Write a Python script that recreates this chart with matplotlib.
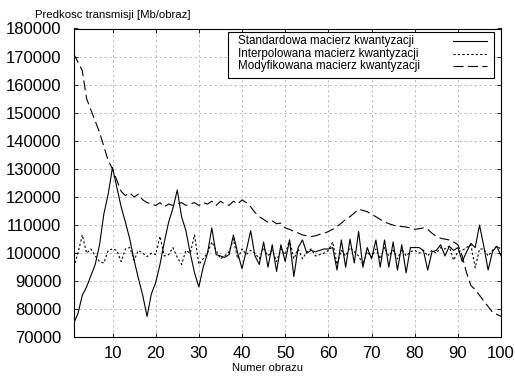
import matplotlib
matplotlib.use("Agg")
import matplotlib.pyplot as plt
from matplotlib.patches import Rectangle
import numpy as np

plt.rcParams["font.family"] = ["Liberation Sans", "DejaVu Sans"]

# frame numbers and bitrate for the three quantization matrices
frames = np.arange(1, 101)

standard = [
    75000, 78500, 85000, 88000, 92000, 96000, 103000, 114000, 121000, 130500,
    123500, 116500, 111000, 105000, 97500, 91000, 85000, 77500, 85500, 89500,
    96000, 104000, 111000, 116000, 122500, 113000, 108000, 100000, 93000, 88000,
    95000, 100000, 109000, 99500, 99000, 98500, 99500, 106500, 100000, 94500,
    101000, 108000, 99000, 96000, 104000, 95000, 103000, 93500, 103000, 97000,
    104700, 91700, 102000, 104700, 100000, 101000, 100500, 101000, 101500, 101500,
    102000, 94000, 104700, 95000, 105000, 96500, 107700, 95000, 102000, 98000,
    104700, 95000, 104700, 95000, 104000, 94000, 103000, 93000, 102000, 102000,
    102000, 101000, 94000, 100500, 101000, 103000, 99000, 102400, 101000, 102000,
    97000, 100500, 103500, 102000, 110000, 102400, 94000, 100500, 102500, 99000,
]

interpolated = [
    95000, 100000, 106500, 100000, 101500, 99000, 97000, 96500, 101000, 101500,
    101000, 97000, 101500, 102000, 97500, 101000, 100000, 98800, 100000, 99500,
    106000, 99000, 99500, 102000, 98500, 96000, 101000, 100000, 106500, 96000,
    98000, 100000, 104000, 101000, 98000, 99000, 100500, 105000, 98000, 101500,
    99500, 101000, 100000, 98000, 102000, 99000, 101000, 97000, 101500, 99500,
    104700, 98000, 101500, 98000, 100500, 101500, 99000, 99500, 100000, 101000,
    104000, 96000, 101000, 99000, 102000, 100500, 99000, 96000, 100500, 98500,
    101500, 98000, 102000, 99000, 101000, 98000, 101500, 99000, 100500, 101000,
    100000, 101000, 99000, 101000, 100000, 102000, 101500, 102500, 97500, 100500,
    101000, 102000, 103000, 94800, 101500, 101500, 99000, 101000, 102500, 101500,
]

modified = [
    171000, 168000, 165000, 155000, 151000, 147000, 143000, 138000, 133000, 130000,
    126000, 122000, 120500, 121500, 120000, 121000, 119000, 118000, 117500, 117000,
    118000, 116500, 117500, 117000, 117500, 118000, 117000, 117500, 118000, 117000,
    118000, 117500, 118500, 117000, 118500, 117500, 117000, 118500, 117500, 119000,
    118000, 116500, 114500, 113000, 112000, 111000, 111500, 110500, 110700, 109000,
    108500, 107700, 107200, 106500, 106200, 105900, 106200, 106700, 107100, 107700,
    108500, 109500, 110700, 112000, 113000, 114300, 115700, 115200, 114800, 113800,
    113000, 112000, 111200, 110500, 110000, 109500, 109500, 109300, 109000, 108500,
    108700, 109000, 108500, 107100, 106000, 105300, 105000, 104700, 104000, 103000,
    99000, 93000, 88500, 87000, 85000, 83000, 81000, 79000, 78200, 77500,
]

labels = [
    "Standardowa macierz kwantyzacji",
    "Interpolowana macierz kwantyzacji",
    "Modyfikowana macierz kwantyzacji",
]
styles = ["-", (0, (2, 2)), (0, (9, 4))]

fig = plt.figure(figsize=(5.15, 3.80), dpi=100)
ax = fig.add_axes([0.143, 0.112, 0.830, 0.813])

for series, ls in zip([standard, interpolated, modified], styles):
    ax.plot(frames, series, color="black", lw=0.8, linestyle=ls)

ax.set_xlim(1, 100)
ax.set_ylim(70000, 180000)
ax.set_xticks(range(10, 101, 10))
ax.set_yticks(range(70000, 180001, 10000))
ax.tick_params(direction="in", top=True, right=True, labelsize=12, length=3, width=0.6)
ax.tick_params(axis="y", pad=9)
ax.tick_params(axis="x", pad=6)
ax.grid(True, color="#b8b8b8", linestyle=(0, (3, 3)), linewidth=0.6)
for s in ax.spines.values():
    s.set_linewidth(0.8)

fig.text(0.519, 0.032, "Numer obrazu", fontsize=8, ha="center", va="center")
fig.text(0.068, 0.9605, "Predkosc transmisji [Mb/obraz]", fontsize=8.2, va="center")

# gnuplot-like key: text left-aligned, line samples on the right
box = Rectangle((0.361, 0.840), 0.623, 0.148, transform=ax.transAxes,
                facecolor="white", edgecolor="black", lw=0.8, zorder=5)
ax.add_patch(box)
rows = [0.958, 0.918, 0.877]
for lab, ls, yy in zip(labels, styles, rows):
    ax.text(0.385, yy, lab, transform=ax.transAxes, fontsize=8.4,
            va="center", ha="left", zorder=6)
    ax.plot([0.888, 0.967], [yy, yy], transform=ax.transAxes, color="black",
            lw=0.8, linestyle=ls, zorder=6)

fig.savefig("out.png", dpi=100)
